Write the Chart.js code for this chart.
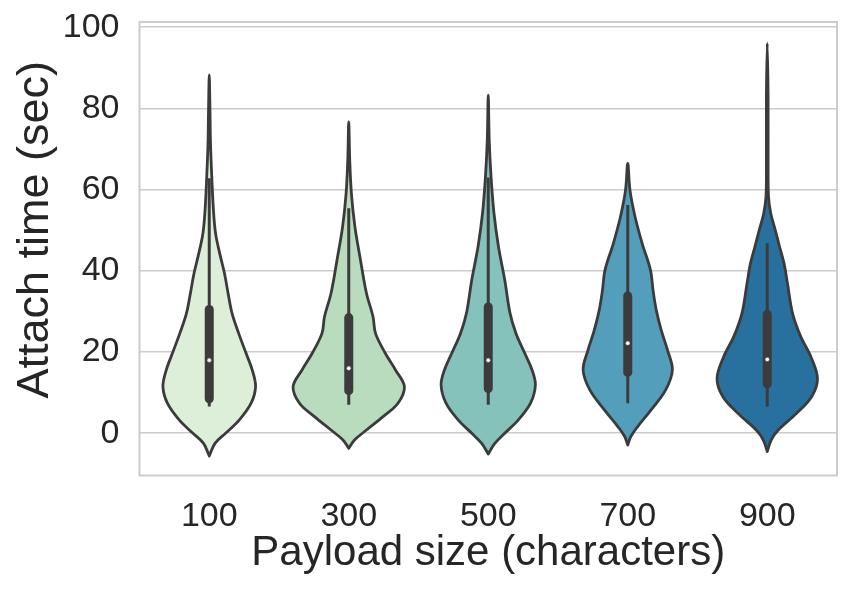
<!DOCTYPE html>
<html><head><meta charset="utf-8">
<script src="https://cdn.jsdelivr.net/npm/chart.js@4/dist/chart.umd.min.js"></script>
<style>html,body{margin:0;padding:0;background:#fff}canvas{display:block}</style>
</head><body>
<canvas id="c" width="853" height="591"></canvas>
<script>
// ---- data ----
const categories = ['100', '300', '500', '700', '900'];
const yTicks = [0, 20, 40, 60, 80, 100];
const yRange = [-10.4, 101.3];
const xTitle = 'Payload size (characters)';
const yTitle = 'Attach time (sec)';

// violin outlines: value levels (top -> bottom) and half-width at each level (category units)
const levels100 = [88.3, 80.0, 71.4, 63.2, 55.0, 49.3, 44.3, 39.4, 34.5, 29.6, 24.6, 19.7, 15.6, 11.5, 7.4, 3.3, 0, -2.5, -5.6];
const halfWidth100 = [0, .005, .009, .018, .030, .045, .075, .109, .135, .163, .211, .264, .308, .332, .300, .216, .117, .041, 0];

const levels300 = [76.7, 67.3, 59.1, 50.9, 42.7, 34.5, 28.7, 24.6, 19.7, 15.6, 11.5, 7.4, 4.1, 0.8, -1.6, -3.7];
const halfWidth300 = [0, .007, .019, .044, .084, .127, .174, .192, .262, .335, .399, .353, .246, .127, .043, 0];

const levels500 = [83.3, 72.2, 63.2, 54.2, 46.0, 37.8, 29.6, 24.6, 19.7, 15.6, 11.9, 7.4, 3.3, 0, -2.5, -5.1];
const halfWidth500 = [0, .007, .020, .041, .073, .118, .156, .199, .262, .314, .338, .303, .216, .118, .047, 0];

const levels700 = [66.5, 59.9, 53.4, 46.8, 40.2, 35.3, 30.4, 25.4, 20.5, 15.6, 10.7, 5.7, 1.6, -0.8, -2.9];
const halfWidth700 = [0, .016, .052, .103, .163, .181, .204, .240, .285, .320, .272, .166, .070, .022, 0];

const levels900 = [96.1, 82.9, 66.5, 58.3, 54.2, 50.1, 46.0, 41.9, 36.9, 29.6, 23.8, 18.9, 13.5, 9.0, 4.9, 0.8, -1.6, -4.5];
const halfWidth900 = [0, .006, .006, .009, .025, .057, .088, .120, .145, .181, .240, .312, .360, .318, .210, .079, .029, 0];

// inner box statistics
const whiskerLow  = [6.6, 7.0, 7.0, 7.4, 6.6];
const q1          = [8.5, 10.5, 11.0, 15.0, 12.2];
const median      = [18.0, 16.0, 18.0, 22.2, 18.2];
const q3          = [30.5, 28.5, 31.1, 33.8, 29.3];
const whiskerHigh = [62.8, 55.4, 63.0, 56.2, 46.8];

// ---- styles ----
const fillColors = ['#ddeed9', '#badcbe', '#85c2bc', '#539ebb', '#28709e'];
const lineGray = '#3b3b3b';
const textColor = '#262626';
const fontFamily = "'Liberation Sans', Arial, Helvetica, sans-serif";

const levelSets = [levels100, levels300, levels500, levels700, levels900];
const widthSets = [halfWidth100, halfWidth300, halfWidth500, halfWidth700, halfWidth900];

const datasets = [];
categories.forEach((cat, i) => {
  const lv = levelSets[i], hw = widthSets[i];
  const pts = [];
  for (let k = lv.length - 1; k >= 0; k--) pts.push({x: i - hw[k], y: lv[k]});
  for (let k = 1; k < lv.length; k++) pts.push({x: i + hw[k], y: lv[k]});
  datasets.push({
    type: 'line', label: 'violin ' + cat, data: pts, fill: 'shape',
    backgroundColor: fillColors[i], borderColor: lineGray, borderWidth: 2.8,
    pointRadius: 0, tension: 0.35, borderJoinStyle: 'round', borderCapStyle: 'round', order: 4
  });
});
categories.forEach((cat, i) => {
  datasets.push({
    type: 'line', label: 'whisker ' + cat,
    data: [{x: i, y: whiskerLow[i]}, {x: i, y: whiskerHigh[i]}],
    borderColor: lineGray, borderWidth: 3, pointRadius: 0, fill: false, order: 3, borderCapStyle: 'butt'
  });
  datasets.push({
    type: 'line', label: 'box ' + cat,
    data: [{x: i, y: q1[i]}, {x: i, y: q3[i]}],
    borderColor: lineGray, borderWidth: 9, pointRadius: 0, fill: false, order: 2, borderCapStyle: 'round'
  });
});
datasets.push({
  type: 'scatter', label: 'median',
  data: median.map((m, i) => ({x: i, y: m})),
  pointRadius: 2.2, pointBackgroundColor: '#ffffff', pointBorderColor: lineGray, pointBorderWidth: 0.5, order: 1
});

// axes frame (light grey spines on all four sides)
const framePlugin = {
  id: 'frame',
  beforeDatasetsDraw(chart) {
    const {ctx, chartArea: a} = chart;
    ctx.save();
    ctx.strokeStyle = '#cccccc';
    ctx.lineWidth = 2;
    ctx.strokeRect(a.left, a.top, a.right - a.left, a.bottom - a.top);
    ctx.restore();
  }
};

// y-axis title, placed like the reference (slightly above the axis centre)
const yTitlePlugin = {
  id: 'yTitle',
  afterDraw(chart) {
    const {ctx, chartArea: a} = chart;
    ctx.save();
    ctx.font = '45px ' + fontFamily;
    ctx.fillStyle = textColor;
    ctx.textAlign = 'center';
    ctx.textBaseline = 'alphabetic';
    ctx.translate(48, (a.top + a.bottom) / 2 - 19);
    ctx.rotate(-Math.PI / 2);
    ctx.fillText(yTitle, 0, 0);
    ctx.restore();
  }
};

new Chart(document.getElementById('c'), {
  type: 'line',
  data: {datasets},
  plugins: [framePlugin, yTitlePlugin],
  options: {
    responsive: false,
    animation: false,
    events: [],
    layout: {padding: {top: 22, right: 16, bottom: 0, left: 0}},
    plugins: {legend: {display: false}, tooltip: {enabled: false}},
    scales: {
      x: {
        type: 'linear', min: -0.5, max: 4.5,
        afterBuildTicks: s => { s.ticks = categories.map((c, i) => ({value: i})); },
        grid: {display: false, drawTicks: false},
        border: {display: false},
        ticks: {
          callback: v => categories[v],
          font: {family: fontFamily, size: 34}, color: textColor, padding: 21,
          maxRotation: 0, autoSkip: false
        },
        title: {
          display: true, text: xTitle,
          font: {family: fontFamily, size: 42, lineHeight: 1.2}, color: textColor,
          padding: {top: 0, bottom: 12}
        },
        afterFit: s => { s.height = 115.5; }
      },
      y: {
        type: 'linear', min: yRange[0], max: yRange[1],
        afterBuildTicks: s => { s.ticks = yTicks.map(v => ({value: v})); },
        grid: {color: '#cccccc', lineWidth: 1.6, drawTicks: false},
        border: {display: false},
        ticks: {font: {family: fontFamily, size: 34}, color: textColor, padding: 20},
        afterFit: s => { s.width = 139.5; s.paddingTop = 0; s.paddingBottom = 0; }
      }
    }
  }
});
</script>
</body></html>
